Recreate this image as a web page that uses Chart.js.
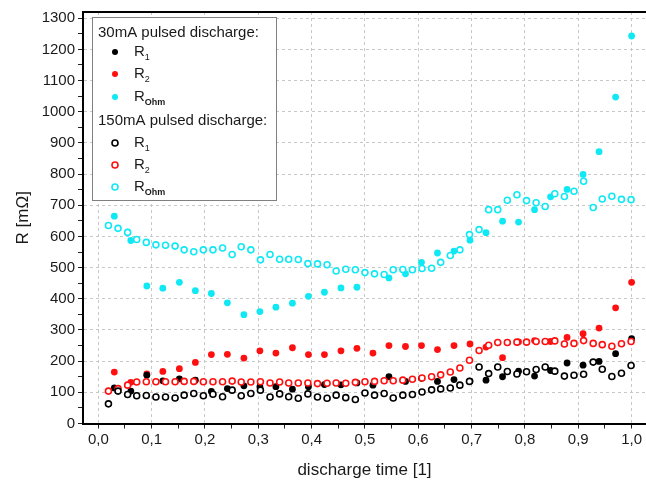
<!DOCTYPE html>
<html>
<head>
<meta charset="utf-8">
<script src="https://cdn.jsdelivr.net/npm/chart.js@4"></script>
<style>
  html, body { margin: 0; padding: 0; background: #fff; }
  #wrap { width: 646px; height: 487px; }
</style>
</head>
<body>
<div id="wrap"><canvas id="myChart" width="646" height="487"></canvas></div>
<script>
// 30mA pulsed discharge (filled markers)
var tLow = [0.030, 0.061, 0.091, 0.121, 0.152, 0.182, 0.212, 0.242, 0.273, 0.303, 0.333,
  0.364, 0.394, 0.424, 0.455, 0.485, 0.515, 0.545, 0.576, 0.606, 0.636, 0.667,
  0.697, 0.727, 0.758, 0.788, 0.818, 0.848, 0.879, 0.909, 0.939, 0.970, 1.000];
var r1Low = [114, 104, 155, 137, 143, 139, 103, 112, 121, 118, 118,
  110, 118, 125, 124, 130, 123, 150, 135, 145, 135, 141,
  136, 139, 150, 168, 152, 170, 194, 187, 199, 224, 272];
var r2Low = [165, 132, 159, 167, 176, 196, 221, 222, 210, 233, 226,
  243, 221, 221, 233, 241, 226, 250, 247, 250, 237, 250,
  255, 245, 211, 262, 266, 263, 276, 288, 306, 371, 453];
var rOhmLow = [665, 587, 441, 434, 453, 426, 417, 387, 349, 359, 373,
  386, 408, 421, 435, 437, null, 467, 480, 517, 547, 553,
  588, 612, 649, 646, 686, 727, 751, 799, 872, 1047, 1243];

// 150mA pulsed discharge (open markers)
var tHigh = [0.019, 0.037, 0.055, 0.072, 0.090, 0.108, 0.126, 0.144, 0.161, 0.179,
  0.197, 0.215, 0.233, 0.251, 0.268, 0.286, 0.304, 0.322, 0.340, 0.357,
  0.375, 0.393, 0.411, 0.429, 0.446, 0.464, 0.482, 0.500, 0.518, 0.536,
  0.553, 0.571, 0.589, 0.607, 0.625, 0.642, 0.660, 0.678, 0.696, 0.714,
  0.732, 0.749, 0.767, 0.785, 0.803, 0.821, 0.838, 0.856, 0.874, 0.892,
  0.910, 0.928, 0.945, 0.963, 0.981, 0.999];
var r1High = [63, 104, 93, 89, 90, 85, 85, 82, 91, 96,
  89, 94, 86, 107, 89, 96, 107, 85, 95, 86,
  81, 95, 85, 81, 91, 83, 77, 98, 91, 96,
  82, 91, 93, 101, 108, 111, 114, 123, 135, 181,
  160, 181, 167, 159, 166, 173, 181, 168, 152, 155,
  158, 197, 174, 151, 161, 186];
var r2High = [104, 112, 123, 133, 134, 134, 134, 134, 135, 135,
  134, 134, 134, 136, 133, 133, 134, 130, 133, 130,
  130, 130, 128, 129, 130, 129, 132, 134, 135, 137,
  137, 139, 142, 146, 150, 156, 165, 178, 203, 234,
  251, 260, 260, 261, 261, 263, 263, 265, 255, 257,
  266, 257, 253, 248, 256, 263];
var rOhmHigh = [635, 626, 613, 590, 581, 573, 572, 569, 557, 551,
  557, 557, 563, 542, 567, 557, 525, 542, 527, 527,
  526, 513, 512, 509, 489, 495, 493, 484, 480, 478,
  493, 494, 493, 497, 498, 517, 539, 557, 606, 622,
  686, 686, 716, 734, 715, 708, 696, 737, 728, 745,
  777, 693, 720, 729, 719, 718];

var black = '#000000';
var red = '#ff1010';
var cyan = '#10e8f4';
var font = "'Liberation Sans', Arial, sans-serif";

function pts(xs, ys) {
  return xs.map(function (x, i) { return { x: x, y: ys[i] }; });
}

function filled(label, xs, ys, color) {
  return {
    label: label, data: pts(xs, ys), order: 1,
    pointRadius: 3.4, pointBorderWidth: 0,
    pointBackgroundColor: color, pointBorderColor: color
  };
}
function open(label, xs, ys, color) {
  return {
    label: label, data: pts(xs, ys), order: 0,
    pointRadius: 3, pointBorderWidth: 1.6,
    pointBackgroundColor: '#ffffff', pointBorderColor: color
  };
}

function isMajor(v, step) {
  var q = v / step;
  return Math.abs(q - Math.round(q)) < 1e-6;
}

var legendItems = [
  { head: '30mA pulsed discharge:', y: 33 },
  { y: 52, color: black, fill: true, sub: '1' },
  { y: 74, color: red, fill: true, sub: '2' },
  { y: 97, color: cyan, fill: true, sub: 'Ohm' },
  { head: '150mA pulsed discharge:', y: 121 },
  { y: 143, color: black, fill: false, sub: '1' },
  { y: 165, color: red, fill: false, sub: '2' },
  { y: 187, color: cyan, fill: false, sub: 'Ohm' }
];

var legendBox = {
  id: 'legendBox',
  beforeDatasetsDraw: function (chart) {
    var ctx = chart.ctx;
    ctx.save();
    ctx.fillStyle = '#ffffff';
    ctx.strokeStyle = '#808080';
    ctx.lineWidth = 1;
    ctx.fillRect(92.5, 17.5, 184, 183);
    ctx.strokeRect(92.5, 17.5, 184, 183);
    ctx.textBaseline = 'middle';
    legendItems.forEach(function (it) {
      if (it.head) {
        ctx.font = '15px ' + font;
        ctx.fillStyle = '#1a1a1a';
        ctx.fillText(it.head, 98, it.y);
        return;
      }
      ctx.beginPath();
      ctx.arc(115, it.y, 3, 0, Math.PI * 2);
      if (it.fill) {
        ctx.fillStyle = it.color;
        ctx.fill();
      } else {
        ctx.fillStyle = '#fff';
        ctx.fill();
        ctx.lineWidth = 1.6;
        ctx.strokeStyle = it.color;
        ctx.stroke();
      }
      ctx.fillStyle = '#1a1a1a';
      ctx.font = '15px ' + font;
      ctx.fillText('R', 134, it.y);
      var w = ctx.measureText('R').width;
      ctx.font = (it.sub === 'Ohm' ? 'bold 9px ' : '9px ') + font;
      ctx.fillText(it.sub, 134 + w, it.y + 6);
    });
    ctx.restore();
  }
};

var frame = {
  id: 'frame',
  afterDraw: function (chart) {
    var a = chart.chartArea;
    var ctx = chart.ctx;
    ctx.save();
    ctx.strokeStyle = '#000';
    ctx.lineWidth = 2;
    ctx.beginPath();
    ctx.moveTo(a.left, a.bottom);
    ctx.lineTo(a.left, a.top);
    ctx.lineTo(a.right + 2, a.top);
    ctx.stroke();
    ctx.restore();
  }
};

new Chart('myChart', {
  type: 'scatter',
  data: {
    datasets: [
      filled('R1 30mA', tLow, r1Low, black),
      filled('R2 30mA', tLow, r2Low, red),
      filled('ROhm 30mA', tLow, rOhmLow, cyan),
      open('R1 150mA', tHigh, r1High, black),
      open('R2 150mA', tHigh, r2High, red),
      open('ROhm 150mA', tHigh, rOhmHigh, cyan)
    ]
  },
  options: {
    responsive: false,
    animation: false,
    layout: { autoPadding: false, padding: { top: 10, right: 0, left: 0, bottom: 0 } },
    plugins: { legend: { display: false }, tooltip: { enabled: false } },
    scales: {
      x: {
        type: 'linear',
        min: -0.0287,
        max: 1.027,
        afterFit: function (s) { s.height = 63.5; },
        ticks: {
          stepSize: 0.05,
          includeBounds: false,
          autoSkip: false,
          maxRotation: 0,
          padding: 2,
          color: '#1a1a1a',
          font: { family: font, size: 15 },
          callback: function (v) {
            return isMajor(v, 0.1) ? v.toFixed(1).replace('.', ',') : '';
          }
        },
        grid: {
          tickLength: 5,
          tickColor: '#222',
          lineWidth: 1,
          color: function (c) {
            return c.tick && isMajor(c.tick.value, 0.1) ? '#c8c8c8' : 'rgba(0,0,0,0)';
          }
        },
        border: { color: '#000', width: 2, dash: [3, 3] },
        title: {
          display: true,
          text: 'discharge time [1]',
          color: '#1a1a1a',
          font: { family: font, size: 17 },
          padding: { top: 0, bottom: 6 }
        }
      },
      y: {
        min: 0,
        max: 1320,
        afterFit: function (s) { s.width = 83; },
        ticks: {
          stepSize: 50,
          includeBounds: false,
          autoSkip: false,
          padding: 3,
          color: '#1a1a1a',
          font: { family: font, size: 15 },
          callback: function (v) { return isMajor(v, 100) ? String(v) : ''; }
        },
        grid: {
          tickLength: 5,
          tickColor: '#222',
          lineWidth: 1,
          color: function (c) {
            return c.tick && isMajor(c.tick.value, 100) && c.tick.value > 0 ? '#c8c8c8' : 'rgba(0,0,0,0)';
          }
        },
        border: { color: '#000', width: 2, dash: [3, 3] },
        title: {
          display: true,
          text: 'R [mΩ]',
          color: '#1a1a1a',
          font: { family: font, size: 17 },
          padding: { top: 13, bottom: 0 }
        }
      }
    }
  },
  plugins: [legendBox, frame]
});
</script>
</body>
</html>
